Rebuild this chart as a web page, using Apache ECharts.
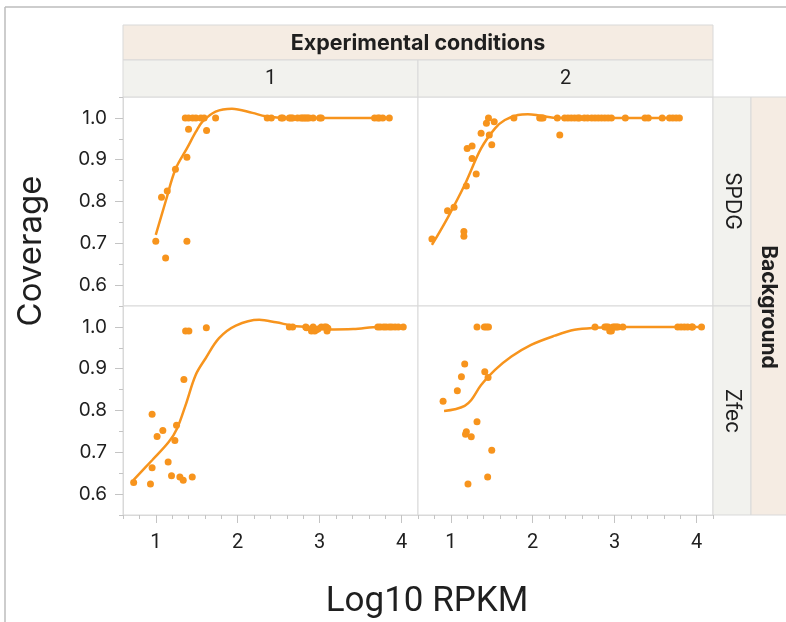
<!DOCTYPE html>
<html>
<head>
<meta charset="utf-8">
<script src="https://cdn.jsdelivr.net/npm/echarts@6/dist/echarts.min.js"></script>
<style>
html,body{margin:0;padding:0;background:#fff;}
#chart{width:786px;height:622px;}
</style>
</head>
<body>
<div id="chart"></div>
<script>
// ---------- data ----------
const columnLabels = ['1', '2'];
const rowLabels = ['SPDG', 'Zfec'];
const columnTitle = 'Experimental conditions';
const rowTitle = 'Background';
const xTitle = 'Log10 RPKM';
const yTitle = 'Coverage';

const xMajorTicks = [1, 2, 3, 4];
const xMinorTicks = [0.6, 0.8, 1.0, 1.2, 1.4, 1.6, 1.8, 2.0, 2.2, 2.4, 2.6, 2.8, 3.0, 3.2, 3.4, 3.6, 3.8, 4.0, 4.2];
const yMajorTicks = [0.6, 0.7, 0.8, 0.9, 1.0];
const yMinorTicks = [0.55, 0.6, 0.65, 0.7, 0.75, 0.8, 0.85, 0.9, 0.95, 1.0, 1.05];

// SPDG, condition 1
const spdgCond1Points = [
  [1.0,0.705],[1.12,0.665],[1.07,0.81],[1.14,0.825],[1.24,0.877],[1.38,0.906],[1.38,0.705],[1.40,0.973],[1.62,0.97],
  [1.36,1],[1.40,1],[1.45,1],[1.49,1],[1.55,1],[1.59,1],[1.73,1],
  [2.36,1],[2.41,1],[2.53,1],[2.55,1],[2.63,1],[2.65,1],[2.67,1],[2.73,1],[2.77,1],[2.79,1],[2.81,1],[2.83,1],[2.85,1],[2.87,1],[2.92,1],[3.00,1],[3.02,1],
  [3.67,1],[3.71,1],[3.73,1],[3.77,1],[3.85,1]
];
const spdgCond1Fit = [
  [1.0,0.72],[1.12,0.80],[1.24,0.877],[1.38,0.927],[1.49,0.967],[1.57,0.991],[1.73,1.015],[1.93,1.022],
  [2.18,1.012],[2.34,1.004],[2.6,1.0],[3.0,1.0],[3.4,1.0],[3.85,1.0]
];

// SPDG, condition 2
const spdgCond2Points = [
  [0.77,0.71],[0.96,0.778],[1.04,0.786],[1.19,0.837],[1.16,0.728],[1.16,0.717],[1.31,0.866],[1.26,0.903],[1.20,0.927],[1.26,0.933],
  [1.37,0.963],[1.47,0.959],[1.50,0.936],[1.435,0.987],[1.46,1.0],[1.53,0.991],[1.77,1.0],
  [2.085,1],[2.106,1],[2.126,1],[2.30,1],[2.39,1],[2.43,1],[2.47,1],[2.51,1],[2.55,1],[2.57,1],[2.63,1],[2.67,1],[2.72,1],[2.76,1],
  [2.80,1],[2.84,1],[2.88,1],[2.92,1],[2.96,1],[3.13,1],[3.37,1],[3.41,1],[3.58,1],[3.67,1],[3.71,1],[3.75,1],[3.79,1],
  [2.33,0.959]
];
const spdgCond2Fit = [
  [0.77,0.696],[0.97,0.764],[1.17,0.84],[1.37,0.927],[1.54,0.975],[1.66,0.995],[1.82,1.007],[1.94,1.009],
  [2.1,1.005],[2.31,1.0],[3.0,1.0],[3.79,1.0]
];

// Zfec, condition 1
const zfecCond1Points = [
  [0.73,0.628],[0.935,0.624],[0.955,0.663],[0.955,0.791],[1.016,0.738],[1.086,0.752],[1.151,0.677],[1.192,0.644],[1.233,0.728],
  [1.253,0.765],[1.294,0.641],[1.335,0.633],[1.445,0.641],[1.343,0.874],[1.364,0.99],[1.404,0.99],[1.617,0.998],
  [2.63,1.0],[2.67,1.0],[2.83,1.0],[2.84,0.998],[2.90,0.99],[2.92,1.0],[2.94,0.99],[2.96,0.993],[2.98,0.995],[3.02,1.0],
  [3.06,1.0],[3.08,1.0],[3.09,0.99],[3.10,0.997],
  [3.71,1],[3.74,1],[3.78,1],[3.81,1],[3.85,1],[3.88,1],[3.92,1],[3.96,1],[4.02,1]
];
const zfecCond1Fit = [
  [0.73,0.634],[0.955,0.681],[1.16,0.725],[1.26,0.757],[1.364,0.813],[1.487,0.885],[1.609,0.925],[1.772,0.973],
  [1.977,1.003],[2.262,1.017],[2.467,1.011],[2.67,1.003],[2.835,1.0],[3.08,0.994],[3.41,0.995],[3.73,1.0],[4.02,1.0]
];

// Zfec, condition 2
const zfecCond2Points = [
  [0.906,0.822],[1.08,0.847],[1.13,0.881],[1.17,0.911],[1.19,0.749],[1.18,0.743],[1.25,0.737],[1.21,0.624],[1.32,0.773],
  [1.32,1.0],[1.41,1.0],[1.435,1.0],[1.46,1.0],[1.415,0.893],[1.455,0.879],[1.50,0.705],[1.45,0.641],
  [2.76,1],[2.88,1],[2.90,1],[2.92,1],[2.94,0.99],[2.96,0.99],[2.98,1],[3.00,1],[3.02,1],[3.04,1],[3.10,1],
  [3.77,1],[3.81,1],[3.85,1],[3.89,1],[3.94,1],[3.95,1],[4.06,1]
];
const zfecCond2Fit = [
  [0.918,0.799],[1.05,0.803],[1.17,0.811],[1.25,0.825],[1.37,0.861],[1.54,0.897],[1.74,0.929],[1.98,0.957],
  [2.27,0.979],[2.51,0.993],[2.76,0.998],[3.08,1.0],[4.06,1.0]
];

const panelPoints = [spdgCond1Points, spdgCond2Points, zfecCond1Points, zfecCond2Points];
const panelFits = [spdgCond1Fit, spdgCond2Fit, zfecCond1Fit, zfecCond2Fit];

// ---------- layout / style ----------
const ORANGE = '#f7941d';
const BORDER = '#d9d9d9';
const TICK = '#c4c4c4';
const TEXT = '#1f1f1f';
const BEIGE = '#f5ece3';
const GREY = '#f2f2ee';
const X_MIN = 0.6, X_MAX = 4.2, Y_MIN = 0.55, Y_MAX = 1.05;

const panelW = 295, panelH = 209;
const colLeft = [123, 418];
const rowTop = [97, 306];

const grids = [];
const xAxes = [];
const yAxes = [];
const series = [];

for (let r = 0; r < 2; r++) {
  for (let c = 0; c < 2; c++) {
    const gi = grids.length;
    grids.push({
      left: colLeft[c], top: rowTop[r], width: panelW, height: panelH,
      show: true, borderColor: BORDER, borderWidth: 1, backgroundColor: '#fff',
      containLabel: false
    });
    const isBottom = r === 1;
    const isLeft = c === 0;
    const xMinorIdx = xAxes.length;
    xAxes.push({
      type: 'value', gridIndex: gi, min: X_MIN, max: X_MAX, position: 'bottom',
      splitLine: { show: false },
      axisLine: { show: isBottom, lineStyle: { color: BORDER } },
      axisTick: { show: isBottom, length: 4, customValues: xMinorTicks, lineStyle: { color: TICK } },
      axisLabel: { show: false }
    });
    xAxes.push({
      type: 'value', gridIndex: gi, min: X_MIN, max: X_MAX, position: 'bottom', offset: 0,
      splitLine: { show: false },
      axisLine: { show: false },
      axisTick: { show: isBottom, length: 8, customValues: xMajorTicks, lineStyle: { color: TICK } },
      axisLabel: {
        show: isBottom, customValues: xMajorTicks, margin: 18,
        fontSize: 20, fontFamily: 'Roboto', color: TEXT,
        formatter: v => String(Math.round(v))
      }
    });
    const yMinorIdx = yAxes.length;
    yAxes.push({
      type: 'value', gridIndex: gi, min: Y_MIN, max: Y_MAX, position: 'left',
      splitLine: { show: false },
      axisLine: { show: isLeft, lineStyle: { color: BORDER } },
      axisTick: { show: isLeft, length: 4, customValues: yMinorTicks, lineStyle: { color: TICK } },
      axisLabel: { show: false }
    });
    yAxes.push({
      type: 'value', gridIndex: gi, min: Y_MIN, max: Y_MAX, position: 'left', offset: 0,
      splitLine: { show: false },
      axisLine: { show: false },
      axisTick: { show: isLeft, length: 8, customValues: yMajorTicks, lineStyle: { color: TICK } },
      axisLabel: {
        show: isLeft, customValues: yMajorTicks, margin: 16,
        fontSize: 19, fontFamily: 'Inter', color: TEXT,
        formatter: v => v.toFixed(1)
      }
    });
    series.push({
      type: 'line', xAxisIndex: xMinorIdx, yAxisIndex: yMinorIdx,
      data: panelFits[gi], smooth: 0.35, showSymbol: false, silent: true,
      lineStyle: { color: ORANGE, width: 2.5 }, z: 3
    });
    series.push({
      type: 'scatter', xAxisIndex: xMinorIdx, yAxisIndex: yMinorIdx,
      data: panelPoints[gi], symbolSize: 7,
      itemStyle: { color: ORANGE, opacity: 1 }, z: 4
    });
  }
}

function label(x, y, text, size, opts) {
  return Object.assign({
    type: 'text', x: x, y: y,
    style: {
      text: text, fontSize: size, fontFamily: (opts && opts.family) || 'Inter',
      fontWeight: (opts && opts.weight) || 'normal', fill: TEXT,
      align: 'center', verticalAlign: 'middle', textAlign: 'center', textVerticalAlign: 'middle'
    }
  }, opts && opts.rotation !== undefined ? { rotation: opts.rotation } : {});
}

const graphic = [
  { type: 'line', shape: { x1: 5, y1: 7, x2: 786, y2: 7 }, style: { stroke: '#bcbcbc', lineWidth: 1.5 } },
  { type: 'line', shape: { x1: 5, y1: 7, x2: 5, y2: 622 }, style: { stroke: '#bcbcbc', lineWidth: 1.5 } },
  { type: 'rect', shape: { x: 123, y: 25, width: 590, height: 35 }, style: { fill: BEIGE, stroke: BORDER, lineWidth: 1 } },
  label(418, 44, columnTitle, 21.5, { weight: 'bold' }),
  { type: 'rect', shape: { x: 123, y: 60, width: 295, height: 37 }, style: { fill: GREY, stroke: BORDER, lineWidth: 1 } },
  { type: 'rect', shape: { x: 418, y: 60, width: 295, height: 37 }, style: { fill: GREY, stroke: BORDER, lineWidth: 1 } },
  label(270.5, 79, columnLabels[0], 20, { family: 'Roboto' }),
  label(565.5, 79, columnLabels[1], 20, { family: 'Roboto' }),
  { type: 'rect', shape: { x: 713, y: 97, width: 38, height: 209 }, style: { fill: GREY, stroke: BORDER, lineWidth: 1 } },
  { type: 'rect', shape: { x: 713, y: 306, width: 38, height: 209 }, style: { fill: GREY, stroke: BORDER, lineWidth: 1 } },
  { type: 'rect', shape: { x: 751, y: 97, width: 36, height: 418 }, style: { fill: BEIGE, stroke: BORDER, lineWidth: 1 } },
  label(732, 201, rowLabels[0], 21, { rotation: -Math.PI / 2 }),
  label(732, 411, rowLabels[1], 21, { rotation: -Math.PI / 2 }),
  label(768, 307, rowTitle, 21, { weight: 'bold', rotation: -Math.PI / 2 }),
  label(31, 251, yTitle, 33, { rotation: Math.PI / 2 }),
  label(427, 602, xTitle, 35, { family: 'Roboto' })
];

const chart = echarts.init(document.getElementById('chart'), null, { renderer: 'canvas' });
chart.setOption({
  animation: false,
  backgroundColor: '#fff',
  grid: grids,
  xAxis: xAxes,
  yAxis: yAxes,
  series: series,
  graphic: graphic
});
</script>
</body>
</html>
